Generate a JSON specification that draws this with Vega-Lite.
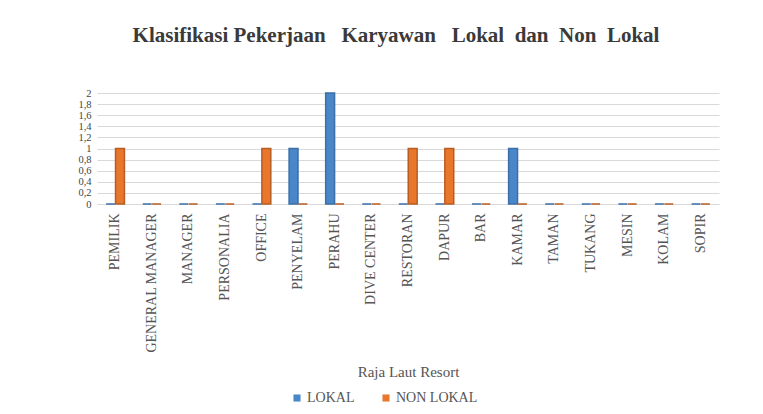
{
  "$schema": "https://vega.github.io/schema/vega-lite/v6.json",
  "width": 622,
  "height": 111,
  "autosize": "none",
  "padding": {"left": 97, "top": 93, "right": 44, "bottom": 210},
  "background": "white",
  "title": {
    "text": "Klasifikasi\u00a0Pekerjaan\u00a0\u00a0\u00a0Karyawan\u00a0\u00a0\u00a0Lokal\u00a0\u00a0dan\u00a0\u00a0Non\u00a0\u00a0Lokal",
    "font": "Liberation Serif",
    "fontSize": 21,
    "fontWeight": "bold",
    "color": "#3a3a3a",
    "anchor": "middle",
    "dx": -12,
    "offset": 42
  },
  "data": {
    "values": [
      {"kat": "PEMILIK", "seri": "LOKAL", "nilai": 0},
      {"kat": "PEMILIK", "seri": "NON LOKAL", "nilai": 1},
      {"kat": "GENERAL MANAGER", "seri": "LOKAL", "nilai": 0},
      {"kat": "GENERAL MANAGER", "seri": "NON LOKAL", "nilai": 0},
      {"kat": "MANAGER", "seri": "LOKAL", "nilai": 0},
      {"kat": "MANAGER", "seri": "NON LOKAL", "nilai": 0},
      {"kat": "PERSONALIA", "seri": "LOKAL", "nilai": 0},
      {"kat": "PERSONALIA", "seri": "NON LOKAL", "nilai": 0},
      {"kat": "OFFICE", "seri": "LOKAL", "nilai": 0},
      {"kat": "OFFICE", "seri": "NON LOKAL", "nilai": 1},
      {"kat": "PENYELAM", "seri": "LOKAL", "nilai": 1},
      {"kat": "PENYELAM", "seri": "NON LOKAL", "nilai": 0},
      {"kat": "PERAHU", "seri": "LOKAL", "nilai": 2},
      {"kat": "PERAHU", "seri": "NON LOKAL", "nilai": 0},
      {"kat": "DIVE CENTER", "seri": "LOKAL", "nilai": 0},
      {"kat": "DIVE CENTER", "seri": "NON LOKAL", "nilai": 0},
      {"kat": "RESTORAN", "seri": "LOKAL", "nilai": 0},
      {"kat": "RESTORAN", "seri": "NON LOKAL", "nilai": 1},
      {"kat": "DAPUR", "seri": "LOKAL", "nilai": 0},
      {"kat": "DAPUR", "seri": "NON LOKAL", "nilai": 1},
      {"kat": "BAR", "seri": "LOKAL", "nilai": 0},
      {"kat": "BAR", "seri": "NON LOKAL", "nilai": 0},
      {"kat": "KAMAR", "seri": "LOKAL", "nilai": 1},
      {"kat": "KAMAR", "seri": "NON LOKAL", "nilai": 0},
      {"kat": "TAMAN", "seri": "LOKAL", "nilai": 0},
      {"kat": "TAMAN", "seri": "NON LOKAL", "nilai": 0},
      {"kat": "TUKANG", "seri": "LOKAL", "nilai": 0},
      {"kat": "TUKANG", "seri": "NON LOKAL", "nilai": 0},
      {"kat": "MESIN", "seri": "LOKAL", "nilai": 0},
      {"kat": "MESIN", "seri": "NON LOKAL", "nilai": 0},
      {"kat": "KOLAM", "seri": "LOKAL", "nilai": 0},
      {"kat": "KOLAM", "seri": "NON LOKAL", "nilai": 0},
      {"kat": "SOPIR", "seri": "LOKAL", "nilai": 0},
      {"kat": "SOPIR", "seri": "NON LOKAL", "nilai": 0}
    ]
  },
  "mark": {"type": "bar", "strokeWidth": 1.5, "strokeJoin": "miter"},
  "encoding": {
    "x": {
      "field": "kat",
      "type": "nominal",
      "sort": null,
      "scale": {"paddingInner": 0.5, "paddingOuter": 0.25},
      "axis": {
        "title": "Raja Laut Resort",
        "titleFont": "Liberation Serif",
        "titleFontSize": 15,
        "titleFontWeight": "normal",
        "titleColor": "#555555",
        "titlePadding": 12,
        "labelFont": "Liberation Serif",
        "labelFontSize": 14,
        "labelColor": "#555555",
        "labelAngle": -90,
        "labelPadding": 9,
        "labelOverlap": false,
        "ticks": false,
        "domain": false,
        "grid": false
      }
    },
    "xOffset": {"field": "seri", "type": "nominal", "scale": {"paddingInner": 0.05}},
    "y": {
      "field": "nilai",
      "type": "quantitative",
      "scale": {"domain": [0, 2]},
      "axis": {
        "title": null,
        "values": [0, 0.2, 0.4, 0.6, 0.8, 1, 1.2, 1.4, 1.6, 1.8, 2],
        "labelExpr": "replace(format(datum.value, ''), '.', ',')",
        "labelFont": "Liberation Serif",
        "labelFontSize": 10.5,
        "labelColor": "#444444",
        "labelOverlap": false,
        "ticks": false,
        "domain": false,
        "gridColor": "#d9d9d9",
        "labelPadding": 6
      }
    },
    "color": {
      "field": "seri",
      "type": "nominal",
      "scale": {"domain": ["LOKAL", "NON LOKAL"], "range": ["#4a87c8", "#e8762d"]},
      "legend": {
        "title": null,
        "orient": "none",
        "direction": "horizontal",
        "legendX": 193,
        "legendY": 298,
        "symbolType": "M-1,-1H1V1H-1Z",
        "symbolSize": 50,
        "symbolStrokeWidth": 0,
        "labelFont": "Liberation Serif",
        "labelFontSize": 14,
        "labelColor": "#555555",
        "labelOffset": 3,
        "columnPadding": 24
      }
    },
    "stroke": {
      "field": "seri",
      "type": "nominal",
      "scale": {"domain": ["LOKAL", "NON LOKAL"], "range": ["#3a6fa8", "#b85d22"]},
      "legend": null
    }
  },
  "config": {"view": {"stroke": null}}
}
